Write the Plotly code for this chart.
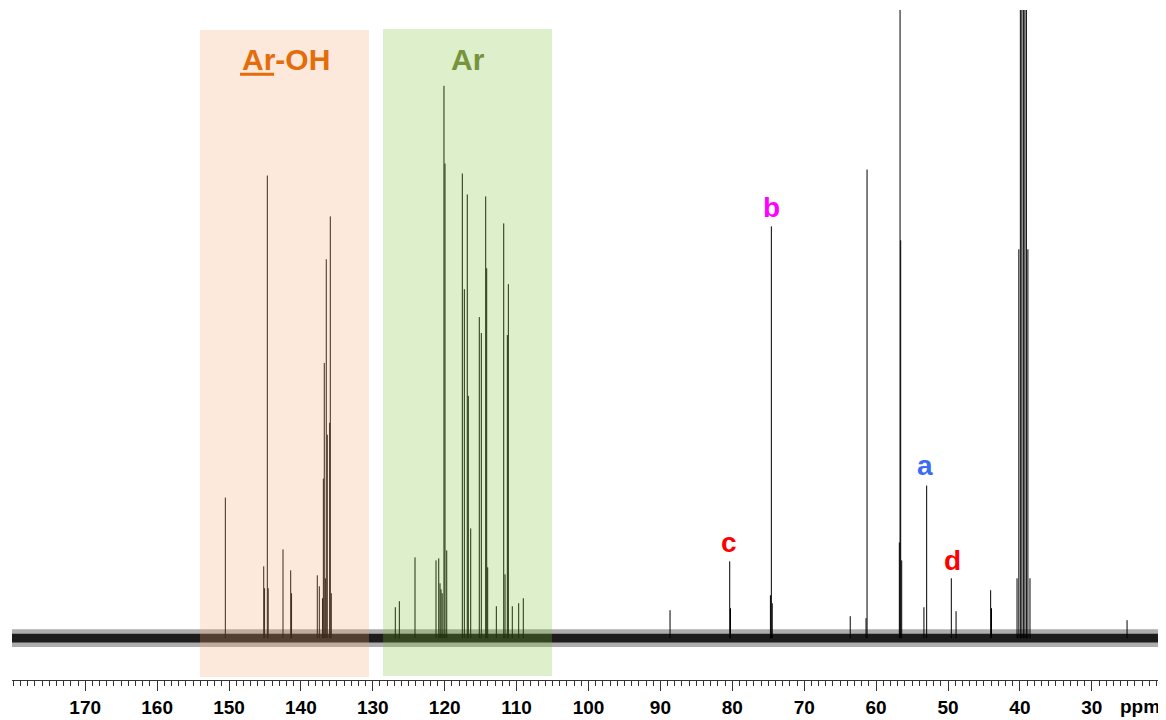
import plotly.graph_objects as go

# ---- data (ppm, intensity above baseline) ----
peak_ppm = [
    150.51, 145.17, 145.05, 144.67, 144.55, 142.49, 141.42, 141.30,
    137.72, 137.44, 137.00, 136.88, 136.75, 136.60, 136.47, 136.33, 136.00, 135.91, 135.77,
    126.87, 126.31, 124.13, 121.21, 120.83, 120.65, 120.51, 120.35, 120.10, 119.96, 119.72,
    117.55, 117.27, 116.86, 116.72, 116.38, 115.19, 114.91, 114.30, 114.16, 114.02,
    112.82, 111.79, 111.61, 111.29, 111.15, 110.60, 109.71, 109.07,
    88.66, 80.36, 80.25, 74.70, 74.57, 74.45, 63.60, 61.40, 61.26,
    56.77, 56.67, 56.58, 56.44, 53.35, 52.97, 49.54, 48.88, 44.07, 43.95,
    40.40, 40.15, 39.94, 39.73, 39.52, 39.31, 39.10, 38.89, 38.60, 25.10,
]
peak_height = [
    141, 72, 50, 464, 50, 89, 68, 45,
    63, 52, 40, 160, 276, 60, 380, 204, 216, 423, 45,
    31, 37, 81, 78, 80, 55, 49, 45, 554, 476, 88,
    466, 350, 445, 243, 110, 322, 306, 443, 371, 71,
    32, 416, 64, 304, 355, 32, 35, 40,
    28, 77, 30, 43, 413, 35, 22, 20, 470,
    96, 1200, 399, 78, 31, 153, 60, 27, 48, 30,
    60, 390, 1170, 2340, 2730, 2340, 1170, 390, 60, 18,
]

# baseline noise band (ppm span, half-widths)
baseline_ppm = [180.18, 20.10]
noise_core = 4.5
noise_outer = 9

# highlighted regions (ppm)
region_ppm = {"Ar-OH": (154.03, 130.53), "Ar": (128.58, 105.08)}

# peak labels: text, ppm, height, colour
label_text = ["b", "c", "a", "d"]
label_ppm = [74.60, 80.40, 53.20, 49.40]
label_y = [432, 96, 173, 78]
label_color = ["#FF00FF", "#FF0000", "#3C6CF4", "#FF0000"]

tick_vals = [170, 160, 150, 140, 130, 120, 110, 100, 90, 80, 70, 60, 50, 40, 30]

FONT = "Liberation Sans, Arial, sans-serif"

# ---- build figure ----
fig = go.Figure()

b0, b1 = baseline_ppm
fig.add_trace(go.Scatter(
    x=[b0, b1, b1, b0, b0], y=[noise_outer, noise_outer, -noise_outer, -noise_outer, noise_outer],
    fill="toself", fillcolor="rgba(50,50,50,0.4)", line=dict(width=0),
    mode="lines", hoverinfo="skip", showlegend=False))
fig.add_trace(go.Scatter(
    x=[b0, b1, b1, b0, b0], y=[noise_core, noise_core, -noise_core, -noise_core, noise_core],
    fill="toself", fillcolor="#1c1c1c", line=dict(width=0),
    mode="lines", hoverinfo="skip", showlegend=False))

xs, ys = [], []
for p, h in zip(peak_ppm, peak_height):
    xs += [p, p, None]
    ys += [0, h, None]
fig.add_trace(go.Scatter(x=xs, y=ys, mode="lines",
                         line=dict(color="black", width=1),
                         hoverinfo="skip", showlegend=False))

# translucent region boxes on top of the spectrum
fig.add_shape(type="rect", xref="x", yref="y",
              x0=region_ppm["Ar-OH"][0], x1=region_ppm["Ar-OH"][1], y0=-39, y1=610,
              fillcolor="rgba(243,167,111,0.25)", line=dict(width=0), layer="above")
fig.add_shape(type="rect", xref="x", yref="y",
              x0=region_ppm["Ar"][0], x1=region_ppm["Ar"][1], y0=-38, y1=611,
              fillcolor="rgba(119,191,47,0.25)", line=dict(width=0), layer="above")

fig.add_annotation(x=sum(region_ppm["Ar-OH"]) / 2 - 0.2, y=580, xref="x", yref="y",
                   text="<b>Ar-OH</b>", showarrow=False,
                   font=dict(family=FONT, size=30, color="#E46C0A"),
                   xanchor="center", yanchor="middle")
# underline below "Ar"
fig.add_shape(type="line", xref="x", yref="y", x0=148.47, x1=143.73, y0=565.5, y1=565.5,
              line=dict(color="#E46C0A", width=3), layer="above")
fig.add_annotation(x=sum(region_ppm["Ar"]) / 2, y=580, xref="x", yref="y",
                   text="<b>Ar</b>", showarrow=False,
                   font=dict(family=FONT, size=30, color="#77933C"),
                   xanchor="center", yanchor="middle")

for t, p, yv, c in zip(label_text, label_ppm, label_y, label_color):
    fig.add_annotation(x=p, y=yv, xref="x", yref="y", text="<b>%s</b>" % t,
                       showarrow=False, xanchor="center", yanchor="middle",
                       font=dict(family=FONT, size=28, color=c))

# unit label next to the last tick label (below the plot area)
fig.add_annotation(x=23.3, y=-0.039, xref="x", yref="paper", text="<b>ppm</b>", showarrow=False,
                   xanchor="center", yanchor="middle",
                   font=dict(family=FONT, size=19, color="black"))

fig.update_xaxes(range=[baseline_ppm[0], baseline_ppm[1]], showgrid=False, zeroline=False,
                 showline=True, linecolor="#333333", linewidth=1,
                 tickmode="array", tickvals=tick_vals, ticktext=[str(v) for v in tick_vals],
                 ticks="outside", ticklen=10, tickwidth=1, tickcolor="#333333",
                 minor=dict(tickmode="linear", tick0=0, dtick=1, ticks="outside",
                            ticklen=5, tickwidth=1, tickcolor="#333333"),
                 tickfont=dict(family=FONT, size=19, color="black", weight="bold"))
fig.update_yaxes(range=[-42, 630], visible=False, showgrid=False, zeroline=False)

# the page body adds an 8px offset, so the figure is sized to land on the window
fig.update_layout(width=1158, height=712, plot_bgcolor="white", paper_bgcolor="white",
                  margin=dict(l=4, r=3, t=2, b=38), showlegend=False)

fig.write_html("out.html")
